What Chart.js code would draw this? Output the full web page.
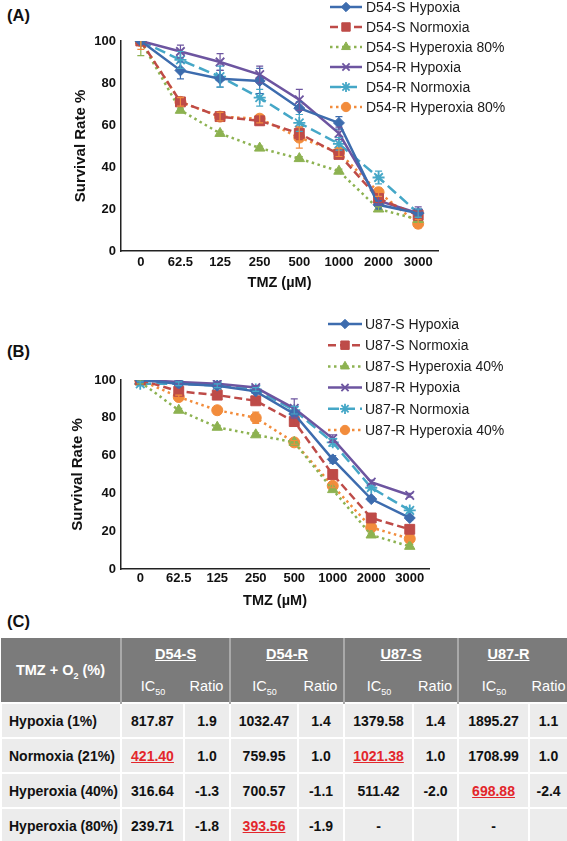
<!DOCTYPE html>
<html>
<head>
<meta charset="utf-8">
<script src="https://cdn.jsdelivr.net/npm/chart.js@4.4.0/dist/chart.umd.min.js"></script>
<style>
	html, body { margin: 0; padding: 0; background: #fff; }
	body { width: 567px; height: 841px; position: relative; overflow: hidden; font-family: "Liberation Sans", Arial, sans-serif; color: #111; }
	.panel { position: absolute; left: 7px; font-weight: bold; font-size: 16.5px; line-height: 18px; }
	#cvA { position: absolute; left: 0; top: 0; }
	#cvB { position: absolute; left: 0; top: 310px; }
	#tbl { position: absolute; left: 0; top: 638px; width: 567px; border-collapse: collapse; table-layout: fixed; }
	#tbl tr.h { height: 32px; }
	#tbl th { background: #7b7b7b; color: #fff; font-size: 14.5px; line-height: 16px; height: 32px; padding: 0; text-align: center; vertical-align: middle; }
	#tbl th.grp { font-weight: bold; text-decoration: underline; }
	#tbl th.sub { font-weight: normal; }
	#tbl th.sep { border-right: 2px solid #a9a9a9; }
	#tbl th sub { font-size: 9px; line-height: 0; }
	#tbl tr.d { height: 35px; }
	#tbl td { background: #ececec; border: 2px solid #fff; padding: 0; text-align: center; font-weight: bold; font-size: 14px; }
	#tbl td.lab { text-align: left; padding-left: 7px; }
	#tbl td.hl { color: #e3262b; text-decoration: underline; }
</style>
</head>
<body>
<div class="panel" style="top:6px">(A)</div>
<div class="panel" style="top:342px">(B)</div>
<div class="panel" style="top:612px">(C)</div>
<canvas id="cvA" width="567" height="300"></canvas>
<canvas id="cvB" width="567" height="300"></canvas>
<table id="tbl"></table>
<script>
var FONT = '"Liberation Sans", Arial, sans-serif';

// TMZ doses (categories)
var doses = ['0', '62.5', '125', '250', '500', '1000', '2000', '3000'];
var yTicks = [0, 20, 40, 60, 80, 100];

// panel A - D54
var namesA = ['D54-S Hypoxia', 'D54-S Normoxia', 'D54-S Hyperoxia 80%', 'D54-R Hypoxia', 'D54-R Normoxia', 'D54-R Hyperoxia 80%'];
var d54sHypoxia     = [100, 86, 82, 81, 68, 61, 22, 18];
var d54sNormoxia    = [100, 71, 64, 62, 56, 46, 25, 17];
var d54sHyperoxia80 = [100, 67, 56, 49, 44, 38, 20, 15];
var d54rHypoxia     = [100, 95, 90, 84, 72, 56, 24, 18];
var d54rNormoxia    = [100, 91, 83, 73, 61, 51, 35, 18];
var d54rHyperoxia80 = [100, 71, 64, 63, 54, 47, 28, 13];
// error bars (+/-)
var d54sHypoxiaErr     = [0, 4, 4, 6, 3, 3, 2, 2];
var d54sNormoxiaErr    = [0, 2, 2, 2, 3, 2, 2, 2];
var d54sHyperoxia80Err = [7, 1, 1, 1, 1, 1, 1, 1];
var d54rHypoxiaErr     = [0, 3, 4, 4, 5, 3, 2, 3];
var d54rNormoxiaErr    = [0, 4, 5, 4, 4, 3, 3, 2];
var d54rHyperoxia80Err = [4, 2, 2, 2, 5, 2, 2, 2];

// panel B - U87
var namesB = ['U87-S Hypoxia', 'U87-S Normoxia', 'U87-S Hyperoxia 40%', 'U87-R Hypoxia', 'U87-R Normoxia', 'U87-R Hyperoxia 40%'];
var u87sHypoxia     = [100, 98, 97, 94, 82, 58, 37, 27];
var u87sNormoxia    = [100, 94, 92, 89, 78, 50, 27, 21];
var u87sHyperoxia40 = [99, 84, 75, 71, 67, 42, 18, 12];
var u87rHypoxia     = [100, 99, 98, 96, 85, 69, 46, 39];
var u87rNormoxia    = [98, 98, 97, 95, 84, 67, 43, 31];
var u87rHyperoxia40 = [100, 91, 84, 80, 67, 44, 22, 16];
var u87sHypoxiaErr     = [0, 1, 1, 1, 2, 2, 1, 1];
var u87sNormoxiaErr    = [0, 1, 1, 1, 2, 2, 1, 1];
var u87sHyperoxia40Err = [1, 1, 1, 1, 1, 1, 1, 1];
var u87rHypoxiaErr     = [0, 1, 1, 1, 5, 2, 1, 1];
var u87rNormoxiaErr    = [1, 1, 1, 1, 2, 2, 1, 1];
var u87rHyperoxia40Err = [0, 1, 1, 3, 1, 1, 1, 1];

// panel C - table
var rowLabels = ['Hypoxia (1%)', 'Normoxia (21%)', 'Hyperoxia (40%)', 'Hyperoxia (80%)'];
var cellLines = ['D54-S', 'D54-R', 'U87-S', 'U87-R'];
var d54sIC50 = ['817.87', '421.40', '316.64', '239.71'];
var d54sRatio = ['1.9', '1.0', '-1.3', '-1.8'];
var d54rIC50 = ['1032.47', '759.95', '700.57', '393.56'];
var d54rRatio = ['1.4', '1.0', '-1.1', '-1.9'];
var u87sIC50 = ['1379.58', '1021.38', '511.42', '-'];
var u87sRatio = ['1.4', '1.0', '-2.0', ''];
var u87rIC50 = ['1895.27', '1708.99', '698.88', '-'];
var u87rRatio = ['1.1', '1.0', '-2.4', ''];
var lowestRow = [1, 3, 1, 2]; // red underlined IC50

var styles = [
	{color: '#3d6cae', dash: [], point: 'rectRot', r: 5.5, pw: 1},
	{color: '#be4b48', dash: [8, 4], point: 'rect', r: 7, pw: 1},
	{color: '#8db251', dash: [2.5, 3.5], point: 'triangle', r: 6, pw: 1},
	{color: '#6d55a0', dash: [], point: 'crossRot', r: 6, pw: 1.8},
	{color: '#45a7c7', dash: [11, 5], point: 'star', r: 6, pw: 1.8},
	{color: '#f28c3c', dash: [2.5, 3.5], point: 'circle', r: 5.5, pw: 1}
];

var errorBars = {
	id: 'errorBars',
	afterDatasetsDraw: function (chart) {
		var ctx = chart.ctx, y = chart.scales.y, a = chart.chartArea;
		ctx.save();
		ctx.beginPath();
		ctx.rect(a.left - 10, a.top, a.right - a.left + 20, a.bottom - a.top);
		ctx.clip();
		chart.data.datasets.forEach(function (ds, i) {
			var meta = chart.getDatasetMeta(i);
			ctx.strokeStyle = ds.borderColor;
			ctx.lineWidth = 1.2;
			ctx.setLineDash([]);
			meta.data.forEach(function (pt, j) {
				var e = ds.errors[j];
				if (!e) return;
				var t = y.getPixelForValue(ds.data[j] + e), b = y.getPixelForValue(ds.data[j] - e);
				ctx.beginPath();
				ctx.moveTo(pt.x, t); ctx.lineTo(pt.x, b);
				ctx.moveTo(pt.x - 3.5, t); ctx.lineTo(pt.x + 3.5, t);
				ctx.moveTo(pt.x - 3.5, b); ctx.lineTo(pt.x + 3.5, b);
				ctx.stroke();
			});
		});
		ctx.restore();
	}
};

var sideLegend = {
	id: 'sideLegend',
	afterDraw: function (chart, args, o) {
		var ctx = chart.ctx;
		chart.data.datasets.forEach(function (ds, i) {
			var y = o.top + i * o.step;
			ctx.save();
			ctx.strokeStyle = ds.borderColor;
			ctx.lineWidth = ds.borderWidth;
			ctx.setLineDash(ds.borderDash);
			ctx.beginPath();
			ctx.moveTo(o.x, y); ctx.lineTo(o.x + o.len, y);
			ctx.stroke();
			ctx.setLineDash([]);
			ctx.fillStyle = ds.pointBackgroundColor;
			ctx.lineWidth = ds.pointBorderWidth;
			Chart.helpers.drawPoint(ctx, {pointStyle: ds.pointStyle, radius: ds.pointRadius * 0.85, rotation: 0, borderWidth: ds.pointBorderWidth}, o.x + o.len / 2, y);
			ctx.fillStyle = '#1a1a1a';
			ctx.font = '14px ' + FONT;
			ctx.textBaseline = 'middle';
			ctx.textAlign = 'left';
			ctx.fillText(ds.label, o.x + o.len + o.gap, y + 1);
			ctx.restore();
		});
	}
};

function buildChart(id, names, series, errors, lay) {
	var datasets = series.map(function (values, i) {
		var s = styles[i];
		return {
			label: names[i], data: values, errors: errors[i],
			borderColor: s.color, backgroundColor: s.color, borderWidth: 2.5, borderDash: s.dash,
			pointStyle: s.point, pointRadius: s.r, pointBackgroundColor: s.color,
			pointBorderColor: s.color, pointBorderWidth: s.pw, tension: 0, fill: false
		};
	});
	return new Chart(document.getElementById(id), {
		type: 'line',
		data: {labels: doses, datasets: datasets},
		options: {
			responsive: false, animation: false, devicePixelRatio: 1,
			layout: {padding: lay.padding},
			plugins: {legend: {display: false}, tooltip: {enabled: false}, sideLegend: lay.legend},
			scales: {
				x: {
					type: 'category', offset: true,
					grid: {display: false, drawTicks: false},
					border: {display: true, color: '#222', width: 1.5},
					ticks: {color: '#111', font: {family: FONT, size: 13, weight: 'bold'}, padding: lay.xTickPad, maxRotation: 0, autoSkip: false},
					title: {display: true, text: 'TMZ (µM)', color: '#111', font: {family: FONT, size: 14.5, weight: 'bold'}, padding: {top: 0, bottom: lay.xTitlePad}},
					afterFit: function (s) { s.height = lay.xHeight; }
				},
				y: {
					min: 0, max: 100,
					grid: {display: false, drawTicks: false},
					border: {display: true, color: '#222', width: 1.5},
					ticks: {color: '#111', font: {family: FONT, size: 13, weight: 'bold'}, padding: 5},
					afterBuildTicks: function (s) { s.ticks = yTicks.map(function (v) { return {value: v}; }); },
					title: {display: true, text: 'Survival Rate %', color: '#111', font: {family: FONT, size: 15, weight: 'bold'}, padding: {top: 4, bottom: 0}},
					afterFit: function (s) { s.width = lay.yWidth; }
				}
			}
		},
		plugins: [errorBars, sideLegend]
	});
}

buildChart('cvA', namesA,
	[d54sHypoxia, d54sNormoxia, d54sHyperoxia80, d54rHypoxia, d54rNormoxia, d54rHyperoxia80],
	[d54sHypoxiaErr, d54sNormoxiaErr, d54sHyperoxia80Err, d54rHypoxiaErr, d54rNormoxiaErr, d54rHyperoxia80Err],
	{padding: {left: 68, top: 41, right: 129, bottom: 0}, yWidth: 53, xHeight: 49, xTickPad: 4, xTitlePad: 8,
	 legend: {x: 330, top: 7, step: 20, len: 32, gap: 4}});

buildChart('cvB', namesB,
	[u87sHypoxia, u87sNormoxia, u87sHyperoxia40, u87rHypoxia, u87rNormoxia, u87rHyperoxia40],
	[u87sHypoxiaErr, u87sNormoxiaErr, u87sHyperoxia40Err, u87rHypoxiaErr, u87rNormoxiaErr, u87rHyperoxia40Err],
	{padding: {left: 65, top: 70, right: 138, bottom: 0}, yWidth: 56, xHeight: 41, xTickPad: 2, xTitlePad: 0,
	 legend: {x: 328, top: 14, step: 21.2, len: 34, gap: 3}});

// table
var ic50s = [d54sIC50, d54rIC50, u87sIC50, u87rIC50];
var ratios = [d54sRatio, d54rRatio, u87sRatio, u87rRatio];
var colW = [120, 63, 46, 68, 46, 69, 45, 71, 39];
var html = '<colgroup>' + colW.map(function (w) { return '<col style="width:' + w + 'px">'; }).join('') + '</colgroup>';
html += '<tr class="h"><th rowspan="2" class="sep" style="font-weight:bold">TMZ + O<sub>2</sub> (%)</th>';
cellLines.forEach(function (c, k) {
	html += '<th colspan="2" class="grp' + (k < 3 ? ' sep' : '') + '"' + (k == 3 ? ' style="padding-right:10px"' : '') + '>' + c + '</th>';
});
html += '</tr><tr class="h">';
cellLines.forEach(function (c, k) {
	html += '<th class="sub">IC<sub>50</sub></th><th class="sub' + (k < 3 ? ' sep' : '') + '">Ratio</th>';
});
html += '</tr>';
rowLabels.forEach(function (lab, r) {
	html += '<tr class="d"><td class="lab">' + lab + '</td>';
	cellLines.forEach(function (c, k) {
		html += '<td' + (lowestRow[k] == r ? ' class="hl"' : '') + '>' + ic50s[k][r] + '</td><td>' + ratios[k][r] + '</td>';
	});
	html += '</tr>';
});
$tbl = document.getElementById('tbl');
$tbl.innerHTML = html;
</script>
</body>
</html>
